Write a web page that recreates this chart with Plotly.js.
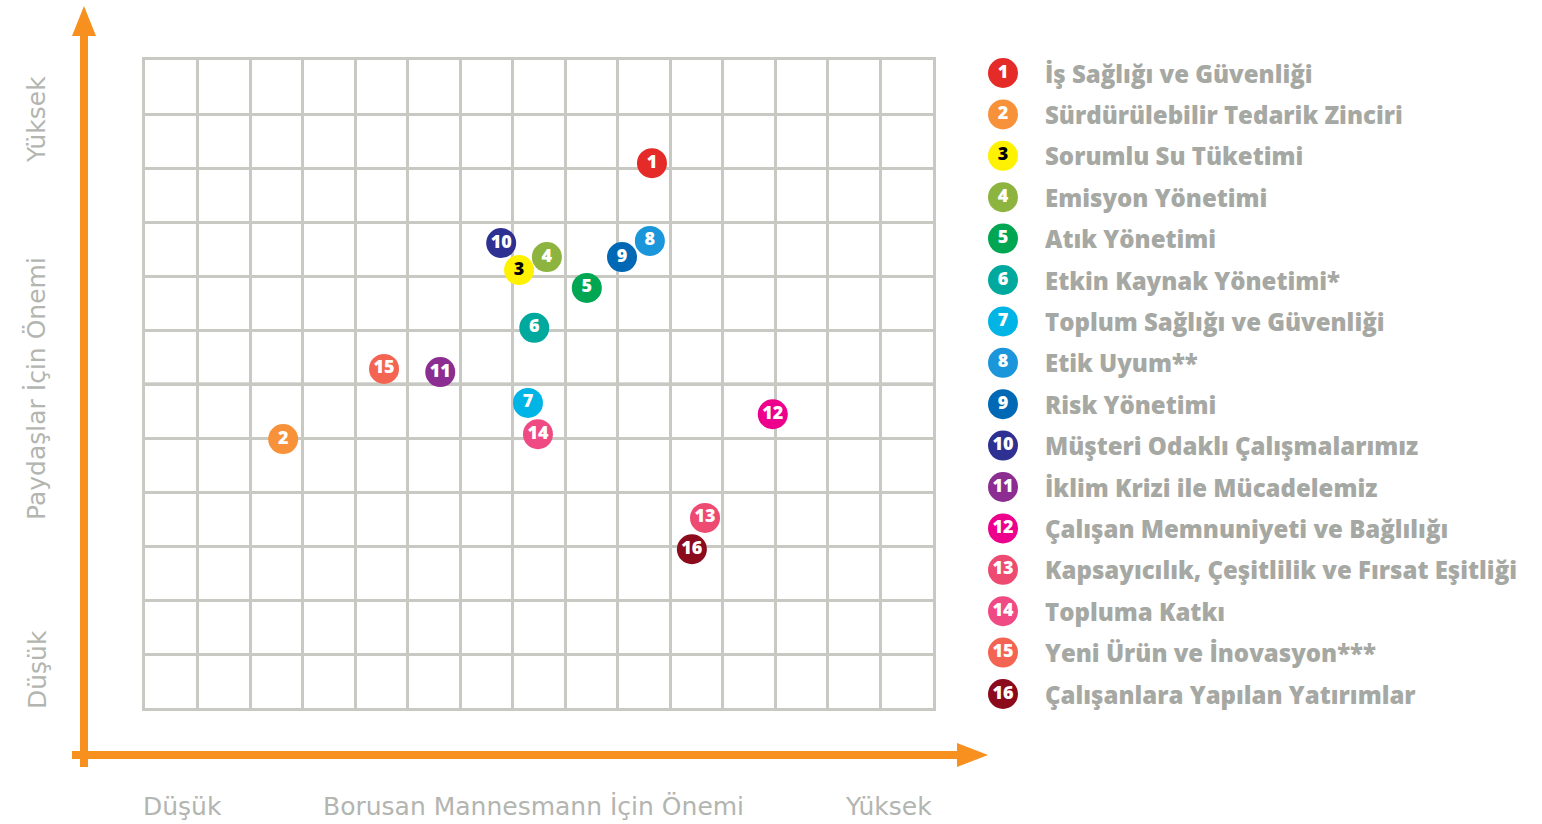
<!DOCTYPE html>
<html>
<head>
<meta charset="utf-8">
<script src="https://cdn.plot.ly/plotly-3.0.1.min.js"></script>
<style>html,body{margin:0;padding:0;background:#fff;}#chart{width:1542px;height:824px;}</style>
</head>
<body>
<div id="chart"></div>
<script>
// ---- data ----
const ids = ["1","2","3","4","5","6","7","8","9","10","11","12","13","14","15","16"];
const labels = [
  "İş Sağlığı ve Güvenliği",
  "Sürdürülebilir Tedarik Zinciri",
  "Sorumlu Su Tüketimi",
  "Emisyon Yönetimi",
  "Atık Yönetimi",
  "Etkin Kaynak Yönetimi*",
  "Toplum Sağlığı ve Güvenliği",
  "Etik Uyum**",
  "Risk Yönetimi",
  "Müşteri Odaklı Çalışmalarımız",
  "İklim Krizi ile Mücadelemiz",
  "Çalışan Memnuniyeti ve Bağlılığı",
  "Kapsayıcılık, Çeşitlilik ve Fırsat Eşitliği",
  "Topluma Katkı",
  "Yeni Ürün ve İnovasyon***",
  "Çalışanlara Yapılan Yatırımlar"
];
// importance for Borusan Mannesmann (x) and for stakeholders (y), in grid units
const companyImportance     = [9.65, 2.63, 7.12, 7.65, 8.41, 7.41, 7.29, 9.61, 9.08, 6.78, 5.62, 11.95, 10.66, 7.48, 4.55, 10.41];
const stakeholderImportance = [10.09, 4.98, 8.11, 8.35, 7.78, 7.04, 5.65, 8.65, 8.35, 8.61, 6.22, 5.44, 3.52, 5.07, 6.28, 2.94];
const colors = ["#e52b27","#f7923a","#fff200","#8db43e","#00a651","#00a99d","#00b5e6","#1b96da","#0068b4","#2e3192","#8b2d91","#ec008c","#ee4b72","#ef4a84","#f36552","#8b0a1c"];
const textColors = ["#ffffff","#ffffff","#000000","#ffffff","#ffffff","#ffffff","#ffffff","#ffffff","#ffffff","#ffffff","#ffffff","#ffffff","#ffffff","#ffffff","#ffffff","#ffffff"];
const legendRows = ids.map((_, i) => i);

// ---- layout helpers ----
const W = 1542, H = 824;
const px = v => v / W;
const py = v => 1 - v / H;
const gridColor = "#c8c9c3";
const orange = "#f7901e";
const labelGray = "#b3b5b0";
const legendGray = "#a6a8a3";
const numFont = {family: "'Open Sans', sans-serif", size: 18, color: textColors, weight: 800};

const mainTrace = {
  type: "scatter", mode: "markers+text",
  x: companyImportance, y: stakeholderImportance,
  text: ids, textposition: "middle center",
  textfont: numFont,
  marker: {size: 30, color: colors, line: {width: 0}},
  xaxis: "x", yaxis: "y", hoverinfo: "skip", cliponaxis: false
};
const legendTrace = {
  type: "scatter", mode: "markers+text",
  x: legendRows.map(() => 1003), y: legendRows,
  text: ids, textposition: "middle center",
  textfont: numFont,
  marker: {size: 30, color: colors, line: {width: 0}},
  xaxis: "x2", yaxis: "y2", hoverinfo: "skip", cliponaxis: false
};

const annotations = labels.map((t, i) => ({
  xref: "x2", yref: "y2", x: 1043, y: i, text: t, showarrow: false,
  xanchor: "left", yanchor: "middle",
  font: {family: "'Open Sans', sans-serif", size: 24, color: legendGray, weight: 800}
}));
const axFont = {family: "'DejaVu Sans', sans-serif", size: 25, color: labelGray};
[
  {x: 182, y: 806, text: "Düşük"},
  {x: 533, y: 806, text: "Borusan Mannesmann İçin Önemi"},
  {x: 889, y: 806, text: "Yüksek"}
].forEach(a => annotations.push({xref: "paper", yref: "paper", x: px(a.x), y: py(a.y), text: a.text,
  showarrow: false, xanchor: "center", yanchor: "middle", font: axFont}));
[
  {x: 37, y: 120, text: "Yüksek"},
  {x: 37, y: 389, text: "Paydaşlar İçin Önemi"},
  {x: 37, y: 670, text: "Düşük"}
].forEach(a => annotations.push({xref: "paper", yref: "paper", x: px(a.x), y: py(a.y), text: a.text,
  showarrow: false, xanchor: "center", yanchor: "middle", textangle: -90, font: axFont}));

const shapes = [
  // vertical arrow shaft + head
  {type: "line", xref: "paper", yref: "paper", x0: px(84), x1: px(84), y0: py(767), y1: py(34), line: {color: orange, width: 8}},
  {type: "path", xref: "paper", yref: "paper",
   path: `M ${px(72)} ${py(36)} L ${px(84)} ${py(6)} L ${px(96)} ${py(36)} Z`, fillcolor: orange, line: {width: 0}},
  // horizontal arrow shaft + head
  {type: "line", xref: "paper", yref: "paper", x0: px(72), x1: px(960), y0: py(755), y1: py(755), line: {color: orange, width: 8}},
  {type: "path", xref: "paper", yref: "paper",
   path: `M ${px(957)} ${py(743)} L ${px(988)} ${py(755)} L ${px(957)} ${py(767)} Z`, fillcolor: orange, line: {width: 0}},
  // slightly darker middle line
  {type: "line", xref: "x", yref: "y", x0: 0, x1: 15, y0: 6, y1: 6, line: {color: "#b7bab4", width: 3}, layer: "below"}
];

const layout = {
  width: W, height: H,
  margin: {l: 0, r: 0, t: 0, b: 0},
  paper_bgcolor: "#ffffff", plot_bgcolor: "rgba(0,0,0,0)",
  showlegend: false,
  xaxis: {domain: [px(145), px(933)], range: [0, 15], dtick: 1, tick0: 0,
    showgrid: true, gridcolor: gridColor, gridwidth: 3, zeroline: false,
    showline: true, mirror: true, linecolor: gridColor, linewidth: 3,
    showticklabels: false, ticks: "", fixedrange: true, anchor: "y"},
  yaxis: {domain: [py(708), py(60)], range: [0, 12], dtick: 1, tick0: 0,
    showgrid: true, gridcolor: gridColor, gridwidth: 3, zeroline: false,
    showline: true, mirror: true, linecolor: gridColor, linewidth: 3,
    showticklabels: false, ticks: "", fixedrange: true, anchor: "x"},
  xaxis2: {domain: [0, 1], range: [0, W], visible: false, anchor: "y2", fixedrange: true},
  yaxis2: {domain: [0, 1], range: [(H - 73) / 41.4, -73 / 41.4], visible: false, anchor: "x2", fixedrange: true},
  annotations: annotations,
  shapes: shapes
};

Plotly.newPlot("chart", [mainTrace, legendTrace], layout, {displayModeBar: false, staticPlot: true});
</script>
</body>
</html>
